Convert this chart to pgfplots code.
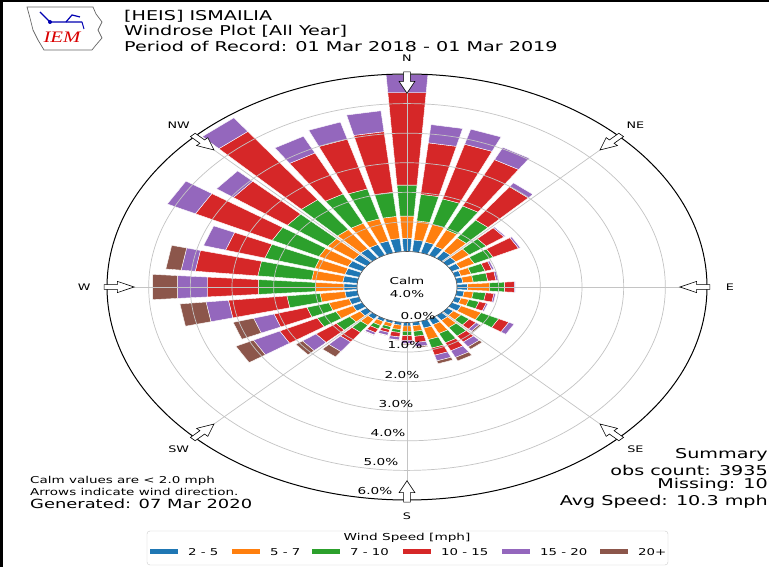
\documentclass[border=0pt]{standalone}
\usepackage{pgfplots}
\pgfplotsset{compat=1.18}
\usepackage{pgfplotstable}
\usetikzlibrary{calc}
\usepackage{fontspec}
\setmainfont{DejaVu Sans}[FakeStretch=1.42]
\newfontfamily\logofont{Liberation Serif}[FakeStretch=1.3]
\definecolor{wc1}{HTML}{1F77B4}
\definecolor{wc2}{HTML}{FF7F0E}
\definecolor{wc3}{HTML}{2CA02C}
\definecolor{wc4}{HTML}{D62728}
\definecolor{wc5}{HTML}{9467BD}
\definecolor{wc6}{HTML}{8C564B}
\definecolor{gridc}{HTML}{C4C4C4}
\newcommand\fs[1]{\fontsize{#1bp}{#1bp}\selectfont}
% per-bin frequencies (%) by direction: 2-5, 5-7, 7-10, 10-15, 15-20, 20+
\pgfplotstableread{
dir b1 b2 b3 b4 b5 b6
0 0.45 0.75 1.05 3.14 0.61 0
10 0.40 0.65 0.90 1.75 0.62 0
20 0.38 0.62 0.90 1.92 0.53 0
30 0.33 0.62 0.90 1.74 0.46 0
40 0.30 0.55 0.75 1.39 0.16 0
50 0.25 0.40 0.50 0.53 0.04 0
60 0.22 0.38 0.50 0.68 0.05 0
70 0.15 0.25 0.35 0.17 0.05 0
80 0.15 0.25 0.35 0.20 0.05 0
90 0.26 0.53 0.36 0.23 0.02 0
100 0.18 0.22 0.30 0.20 0.04 0
110 0.15 0.20 0.25 0.18 0.04 0
120 0.25 0.53 0.47 0.27 0.14 0
130 0.18 0.22 0.25 0.20 0.10 0.05
140 0.20 0.30 0.35 0.25 0.20 0.10
150 0.22 0.33 0.35 0.30 0.25 0.13
160 0.25 0.40 0.30 0.25 0.20 0.10
170 0.12 0.19 0.17 0.21 0.14 0.04
180 0.12 0.18 0.15 0.17 0.10 0.03
190 0.10 0.15 0.10 0.15 0.10 0.02
200 0.08 0.12 0.10 0.10 0.10 0.02
210 0.10 0.15 0.13 0.14 0.08 0.02
220 0.15 0.25 0.30 0.40 0.40 0.22
230 0.20 0.30 0.40 0.60 0.40 0.20
240 0.25 0.45 0.50 1.00 0.70 0.47
250 0.25 0.50 0.55 0.82 0.51 0.51
260 0.30 0.60 0.80 1.41 0.54 0.63
270 0.32 0.68 1.37 1.23 0.72 0.60
280 0.35 0.75 1.30 1.51 0.34 0.37
290 0.35 0.75 1.25 0.98 0.55 0
300 0.38 0.77 1.25 2.05 0.75 0
310 0.38 0.77 1.20 1.60 0.50 0
320 0.40 0.80 1.25 2.85 0.57 0
330 0.40 0.80 1.10 1.54 0.63 0
340 0.42 0.78 1.05 1.75 0.60 0
350 0.45 0.75 0.82 2.06 0.71 0
}\windtable
\def\rzero{1.2}
\newcommand\warrow[1]{%
  \filldraw[fill=white, draw=black, line width=0.6bp]
   ($(#1:7.27)+(#1+90:0.08)$) -- ($(#1:6.95)+(#1+90:0.08)$) --
   ($(#1:6.95)+(#1+90:0.19)$) -- (#1:6.55) --
   ($(#1:6.95)+(#1-90:0.19)$) -- ($(#1:6.95)+(#1-90:0.08)$) --
   ($(#1:7.27)+(#1-90:0.08)$) -- cycle;}
\begin{document}
\begin{tikzpicture}
\path[use as bounding box] (0,0) rectangle (769bp,567bp);
\fill[white] (0,0) rectangle (769bp,567bp);
\begin{axis}[at={(107bp,67bp)}, anchor=south west, scale only axis,
  width=600bp, height=426bp, xmin=-7.2, xmax=7.2, ymin=-7.2, ymax=7.2,
  hide axis, clip=false]
\pgfplotsinvokeforeach{0,...,35}{
  \pgfplotstablegetelem{#1}{dir}\of\windtable
  \let\wdir\pgfplotsretval
  \def\wcum{0}
  \pgfplotsforeachungrouped \j in {1,...,6}{
    \pgfplotstablegetelem{#1}{b\j}\of\windtable
    \let\wval\pgfplotsretval
    \pgfmathsetmacro\wbase{\rzero+\wcum}
    \pgfmathsetmacro\wcum{\wcum+\wval}
    \pgfmathsetmacro\wtop{\rzero+\wcum}
    \pgfmathsetmacro\aL{90-\wdir+4}
    \pgfmathsetmacro\aR{90-\wdir-4}
    \ifdim\wval pt>0pt
      \edef\doplot{\noexpand\addplot[fill=wc\j, draw=white, line width=0.4bp, data cs=polar] coordinates {(\aL,\wbase) (\aR,\wbase) (\aR,\wtop) (\aL,\wtop) (\aL,\wbase)};}
      \doplot
    \fi
  }
}
\end{axis}
\begin{scope}[shift={(407bp,280bp)}, x=41.667bp, y=29.583bp]
  \foreach \r in {2.2,3.2,4.2,5.2,6.2} {\draw[gridc, line width=0.7bp] (0,0) ellipse [x radius=\r, y radius=\r];}
  \foreach \a in {0,45,...,315} {\draw[gridc, line width=0.7bp] (\a:1.2) -- (\a:7.2);}
  \draw[black!70, line width=0.6bp] (0,0) ellipse [x radius=1.2, y radius=1.2];
  \draw[black, line width=1bp] (0,0) ellipse [x radius=7.2, y radius=7.2];
  \foreach \a in {0,45,...,315} {\warrow{\a}}
  \foreach \a/\t in {90/N,45/NE,0/E,-45/SE,-90/S,-135/SW,180/W,135/NW} {\node[font=\fs{9}] at (\a:7.75) {\t};}
\end{scope}
% radial labels
\foreach \x/\y/\t in {418/251/0.0,405/222/1.0,402/192/2.0,396/163/3.0,388/134/4.0,381/105/5.0,375/76/6.0}
  {\node[font=\fs{9.6}, inner sep=0] at (\x bp,\y bp) {\t\%};}
\node[align=center, font=\fontsize{9.5bp}{13bp}\selectfont] at (407bp,280bp) {Calm\\4.0\%};
% titles
\node[anchor=base west, inner sep=0, font=\fs{13.5}] at (124bp,546bp) {[HEIS] ISMAILIA};
\node[anchor=base west, inner sep=0, font=\fs{13.5}] at (124bp,531bp) {Windrose Plot [All Year]};
\node[anchor=base west, inner sep=0, font=\fs{13.5}] at (124bp,515bp) {Period of Record: 01 Mar 2018 - 01 Mar 2019};
% logo
\draw[black!60, line width=0.7bp] (27bp,560bp) -- (93bp,560bp) -- (96bp,553bp) -- (102bp,545bp) -- (98bp,537bp) -- (102bp,529bp) -- (96bp,522bp) -- (92bp,517bp) -- (44bp,517bp) -- (38bp,527bp) -- (33bp,537bp) -- (30bp,549bp) -- cycle;
\draw[blue!70!black, line width=1.2bp] (40bp,555bp) -- (50bp,545bp) -- (82bp,545bp);
\draw[blue!70!black, line width=1.2bp] (66bp,545bp) -- (72bp,552bp) -- (80bp,550bp);
\draw[blue!70!black, line width=1bp] (82bp,545bp) -- (84bp,538bp);
\fill[blue!70!black] (50bp,545bp) circle (2bp);
\node[text=red!85!black, font=\logofont\itshape\fs{16}] at (62bp,530bp) {IEM};
% bottom-left notes
\node[anchor=west, inner sep=0, font=\fs{9.5}] at (30bp,86bp) {Calm values are < 2.0 mph};
\node[anchor=west, inner sep=0, font=\fs{9.5}] at (30bp,75bp) {Arrows indicate wind direction.};
\node[anchor=west, inner sep=0, font=\fs{12.6}] at (30bp,63bp) {Generated: 07 Mar 2020};
% summary
\node[anchor=east, inner sep=0, font=\fs{13.5}] at (768bp,112bp) {Summary};
\node[anchor=east, inner sep=0, font=\fs{13.5}] at (768bp,97bp) {obs count: 3935};
\node[anchor=east, inner sep=0, font=\fs{13.5}] at (768bp,82bp) {Missing: 10};
\node[anchor=east, inner sep=0, font=\fs{13.5}] at (768bp,65bp) {Avg Speed: 10.3 mph};
% legend
\draw[black!20, fill=white, rounded corners=3bp] (147bp,2bp) rectangle (668bp,36bp);
\node[font=\fs{9.6}] at (407bp,29bp) {Wind Speed [mph]};
\foreach \x/\c/\t in {150/wc1/2 - 5,232/wc2/5 - 7,312/wc3/7 - 10,403/wc4/10 - 15,502/wc5/15 - 20,600/wc6/20+}
  {\fill[\c] (\x bp,12.5bp) rectangle ++(28bp,5bp);
   \node[anchor=west, inner sep=0, font=\fs{9.4}] at ({\x bp+38bp},15bp) {\t};}
% frame
\draw[black, line width=2.5bp] (0,565.75bp) -- (769bp,565.75bp);
\draw[black, line width=2.5bp] (1.25bp,0) -- (1.25bp,567bp);
\end{tikzpicture}
\end{document}
